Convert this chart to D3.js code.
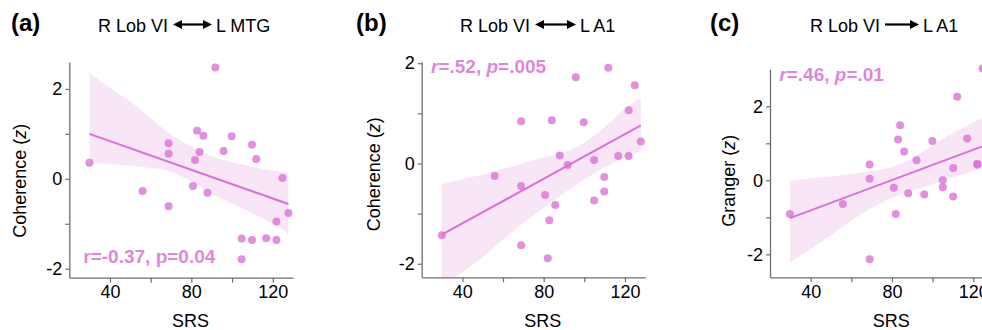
<!DOCTYPE html>
<html><head><meta charset="utf-8">
<script src="https://cdn.jsdelivr.net/npm/d3@7/dist/d3.min.js"></script>
<style>
body{margin:0;background:#fff;}
svg{display:block;font-family:"Liberation Sans",Arial,Helvetica,sans-serif;}
</style></head><body>
<svg id="chart" width="982" height="330"></svg>
<script>
// ---------- data ----------
const xTickValues = [40, 60, 80, 100, 120];
const xTickLabels = ["40", "", "80", "", "120"];
const yTickValues = [-2, -1, 0, 1, 2];
const yTickLabels = ["-2", "", "0", "", "2"];

const panelLetters = ["(a)", "(b)", "(c)"];
const titleLeft = ["R Lob VI", "R Lob VI", "R Lob VI"];
const titleRight = ["L MTG", "L A1", "L A1"];
const yLabelNames = ["Coherence", "Coherence", "Granger"];
const xLabelName = "SRS";

// (a) R Lob VI <-> L MTG coherence
const srsA = [29.9, 56.0, 68.8, 68.8, 68.8, 80.8, 81.8, 82.8, 84.0, 85.9, 87.9, 91.8, 95.8, 99.8, 104.7, 104.7, 109.8, 109.8, 111.9, 116.8, 121.8, 121.8, 124.8, 127.7];
const cohA = [0.36, -0.27, 0.79, 0.56, -0.61, -0.16, 0.42, 1.07, 0.60, 0.96, -0.31, 2.48, 0.62, 0.95, -1.33, -1.79, 0.76, -1.36, 0.44, -1.32, -0.95, -1.36, 0.02, -0.76];
const fitAX = [29.9, 127.7];
const fitAY = [1.00, -0.56];
const bandAX = [29.9, 40, 50, 60, 70, 80, 90, 100, 110, 120, 127.7];
const bandAHi = [2.36, 2.02, 1.72, 1.35, 0.98, 0.72, 0.50, 0.37, 0.27, 0.18, 0.13];
const bandALo = [0.36, 0.33, 0.29, 0.24, 0.16, -0.06, -0.33, -0.55, -0.77, -1.00, -1.21];

// (b) R Lob VI <-> L A1 coherence
const srsB = [29.9, 55.9, 68.9, 68.9, 68.9, 80.7, 82.0, 82.8, 84.0, 85.7, 87.9, 91.8, 95.8, 99.7, 104.8, 104.8, 109.8, 109.8, 111.8, 116.7, 121.8, 121.8, 124.8, 127.8];
const cohB = [-1.43, -0.25, 0.84, -0.45, -1.63, -0.63, -1.89, -1.13, 0.86, -0.83, 0.16, -0.03, 1.72, 0.82, 0.07, -0.74, -0.27, -0.56, 1.91, 0.15, 0.15, 1.06, 1.56, 0.44];
const fitBX = [29.9, 127.8];
const fitBY = [-1.42, 0.76];
const bandBX = [29.9, 36, 49, 57, 65, 78, 95, 111, 121, 127.8];
const bandBHi = [-0.41, -0.35, -0.23, -0.14, -0.05, 0.10, 0.30, 0.76, 1.13, 1.31];
const bandBLo = [-2.47, -2.28, -1.90, -1.62, -1.35, -0.95, -0.45, -0.06, 0.14, 0.25];

// (c) R Lob VI -> L A1 Granger
const srsC = [29.8, 55.8, 69.0, 69.0, 69.0, 80.9, 81.9, 83.0, 84.0, 86.0, 88.0, 92.1, 95.9, 99.9, 105.0, 105.0, 110.1, 110.1, 112.1, 117.0, 122.0, 122.0, 124.6];
const grC = [-0.91, -0.64, 0.43, 0.04, -2.13, -0.20, -0.91, 1.10, 1.49, 0.78, -0.35, 0.54, -0.38, 1.06, 0.00, -0.19, 0.33, -0.44, 2.26, 1.13, 0.45, 0.42, 3.02];
const fitCX = [29.8, 128];
const fitCY = [-1.02, 0.99];
const bandCX = [29.8, 45, 58, 70, 80, 91, 100, 108, 117, 125, 128];
const bandCHi = [-0.02, 0.08, 0.16, 0.25, 0.36, 0.63, 0.95, 1.22, 1.47, 1.71, 1.78];
const bandCLo = [-2.22, -1.67, -1.17, -0.75, -0.48, -0.27, -0.10, 0.05, 0.20, 0.36, 0.41];

// stats annotation segments: [text, italic]
const statA = [["r=-0.37, p=0.04", false]];
const statB = [["r", true], ["=.52, ", false], ["p", true], ["=.005", false]];
const statC = [["r", true], ["=.46, ", false], ["p", true], ["=.01", false]];

// ---------- layout ----------
const COLOR = "#da70d6";
const panels = [
  {xs: srsA, ys: cohA, fx: fitAX, fy: fitAY, bx: bandAX, bh: bandAHi, bl: bandALo, stat: statA,
   left: 69.3, right: 293.1, top: 62, bottom: 277.7, yDomain: [-2.2, 2.6],
   letterX: 11, arrow: [173, 212], both: true, yLabX: 20, yLabY: 180.7, statX: 83.3, statY: 263},
  {xs: srsB, ys: cohB, fx: fitBX, fy: fitBY, bx: bandBX, bh: bandBHi, bl: bandBLo, stat: statB,
   left: 421.7, right: 645.3, top: 61.7, bottom: 277.3, yDomain: [-2.27, 2.03],
   letterX: 356, arrow: [535, 576], both: true, yLabX: 373.3, yLabY: 174.2, statX: 431, statY: 72.7},
  {xs: srsC, ys: grC, fx: fitCX, fy: fitCY, bx: bandCX, bh: bandCHi, bl: bandCLo, stat: statC,
   left: 770, right: 993.6, top: 69.3, bottom: 277.3, yDomain: [-2.62, 3.0],
   letterX: 710, arrow: [885, 919], both: false, yLabX: 728.3, yLabY: 180.8, statX: 779.3, statY: 81}
];

const svg = d3.select("#chart");

panels.forEach((p, i) => {
  const x = d3.scaleLinear().domain([20, 130]).range([p.left, p.right]);
  const y = d3.scaleLinear().domain(p.yDomain).range([p.bottom, p.top]);
  const g = svg.append("g");

  const clipId = "clip" + i;
  svg.append("defs").append("clipPath").attr("id", clipId)
    .append("rect").attr("x", p.left).attr("y", p.top)
    .attr("width", p.right - p.left).attr("height", p.bottom - p.top);

  // confidence band
  const bandData = p.bx.map((v, k) => ({x: v, lo: p.bl[k], hi: p.bh[k]}));
  g.append("path").datum(bandData)
    .attr("clip-path", `url(#${clipId})`)
    .attr("fill", "#f8e6f7")
    .attr("d", d3.area().curve(d3.curveMonotoneX)
      .x(d => x(d.x)).y0(d => y(d.lo)).y1(d => y(d.hi)));

  // regression line
  const fitData = p.fx.map((v, k) => ({x: v, y: p.fy[k]}));
  g.append("path").datum(fitData)
    .attr("fill", "none").attr("stroke", COLOR).attr("stroke-width", 2)
    .attr("d", d3.line().x(d => x(d.x)).y(d => y(d.y)));

  // axes
  const xAxis = d3.axisBottom(x).tickValues(xTickValues)
    .tickFormat((d, k) => xTickLabels[k]).tickSize(5).tickSizeOuter(0).tickPadding(3);
  const yAxis = d3.axisLeft(y).tickValues(yTickValues)
    .tickFormat((d, k) => yTickLabels[k]).tickSize(4).tickSizeOuter(0).tickPadding(3);
  const gx = g.append("g").attr("transform", `translate(0,${p.bottom})`).call(xAxis);
  const gy = g.append("g").attr("transform", `translate(${p.left},0)`).call(yAxis);
  [gx, gy].forEach(a => {
    a.selectAll(".domain").attr("stroke", "#6e6e6e").attr("stroke-width", 1.3);
    a.selectAll(".tick line").attr("stroke", "#6e6e6e").attr("stroke-width", 1.2);
    a.selectAll(".tick text").attr("fill", "#000").style("font-size", "18px")
      .style("font-family", '"Liberation Sans",Arial,sans-serif');
  });

  // points
  g.append("g").selectAll("circle").data(p.xs.map((v, k) => ({x: v, y: p.ys[k]})))
    .join("circle")
    .attr("cx", d => x(d.x)).attr("cy", d => y(d.y)).attr("r", 4)
    .attr("fill", COLOR).attr("fill-opacity", 0.78);

  // stats annotation
  const st = g.append("text").attr("x", p.statX).attr("y", p.statY)
    .attr("fill", COLOR).attr("fill-opacity", 0.85)
    .style("font-size", "19px").style("font-weight", "bold");
  p.stat.forEach(([t, it]) => st.append("tspan").text(t).style("font-style", it ? "italic" : "normal"));

  // y label
  const yl = g.append("text")
    .attr("transform", `translate(${p.yLabX},${p.yLabY}) rotate(-90)`)
    .attr("text-anchor", "middle").attr("dy", "0.35em")
    .style("font-size", "18px").attr("fill", "#000");
  yl.append("tspan").text(yLabelNames[i] + " (");
  yl.append("tspan").text("z").style("font-style", "italic");
  yl.append("tspan").text(")");

  // x label
  g.append("text").attr("x", x(79.6)).attr("y", 326.5)
    .attr("text-anchor", "middle").style("font-size", "18px").attr("fill", "#000")
    .text(xLabelName);

  // panel letter
  g.append("text").attr("x", p.letterX).attr("y", 31)
    .style("font-size", "24px").style("font-weight", "bold").attr("fill", "#000")
    .text(panelLetters[i]);

  // title with arrow
  const ty = 32, ay = 24.5;
  g.append("text").attr("x", p.arrow[0] - 5).attr("y", ty).attr("text-anchor", "end")
    .style("font-size", "18px").attr("fill", "#000").text(titleLeft[i]);
  g.append("text").attr("x", p.arrow[1] + 4).attr("y", ty).attr("text-anchor", "start")
    .style("font-size", "18px").attr("fill", "#000").text(titleRight[i]);
  const hl = 9, hw = 4.5;
  const x0 = p.arrow[0] + (p.both ? hl - 1 : 0), x1 = p.arrow[1] - hl + 1;
  g.append("line").attr("x1", x0).attr("x2", x1).attr("y1", ay).attr("y2", ay)
    .attr("stroke", "#000").attr("stroke-width", 2.2);
  g.append("path")
    .attr("d", `M${p.arrow[1]},${ay} L${p.arrow[1] - hl},${ay - hw} L${p.arrow[1] - hl},${ay + hw} Z`)
    .attr("fill", "#000");
  if (p.both) {
    g.append("path")
      .attr("d", `M${p.arrow[0]},${ay} L${p.arrow[0] + hl},${ay - hw} L${p.arrow[0] + hl},${ay + hw} Z`)
      .attr("fill", "#000");
  }
});
</script>
</body></html>
